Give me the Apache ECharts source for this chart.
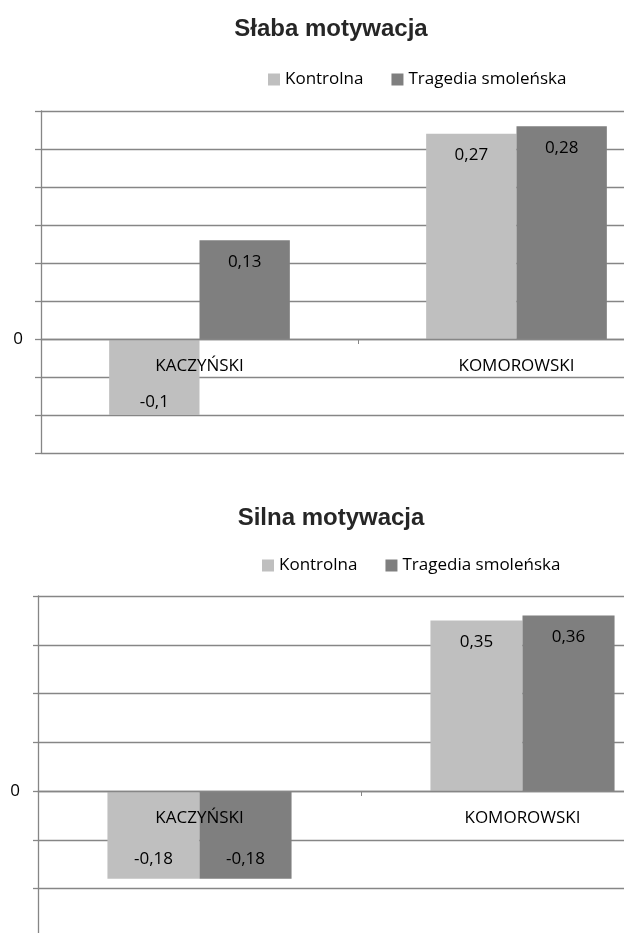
<!DOCTYPE html>
<html>
<head>
<meta charset="utf-8">
<script src="https://cdn.jsdelivr.net/npm/echarts@6/dist/echarts.min.js"></script>
<style>
html,body{margin:0;padding:0;background:#fff;}
#c{width:624px;height:933px;}
</style>
</head>
<body>
<div id="c"></div>
<script>
// ---- data ----
const categories = ['KACZYŃSKI', 'KOMOROWSKI'];
const seriesNames = ['Kontrolna', 'Tragedia smoleńska'];
const chartTitles = ['Słaba motywacja', 'Silna motywacja'];
const slabaKontrolna = [-0.1, 0.27];
const slabaTragedia = [0.13, 0.28];
const silnaKontrolna = [-0.18, 0.35];
const silnaTragedia = [-0.18, 0.36];
const slabaAxis = { min: -0.15, max: 0.3, interval: 0.05 };
const silnaAxis = { min: -0.3, max: 0.4, interval: 0.1 };

// ---- style ----
const colors = ['#BFBFBF', '#7F7F7F'];
const gridColor = '#868686';
const FONT = 'Open Sans';
const textSize = 17;

const panels = [
  { title: chartTitles[0], values: [slabaKontrolna, slabaTragedia], axis: slabaAxis,
    titleTop: 17, legendLeft: 268, legendTop: 71,
    grid: { left: 41, top: 111, width: 634, height: 342 }, tickLen: 6, negDist: 4 },
  { title: chartTitles[1], values: [silnaKontrolna, silnaTragedia], axis: silnaAxis,
    titleTop: 506, legendLeft: 262, legendTop: 557,
    grid: { left: 38, top: 596, width: 646, height: 341.25 }, tickLen: 5, negDist: 11 }
];

const fmt = v => String(v).replace('.', ',');

const option = {
  animation: false,
  backgroundColor: '#fff',
  title: [], legend: [], grid: [], xAxis: [], yAxis: [], series: []
};

panels.forEach((p, i) => {
  // distance (px) from the bottom of the grid up to the zero line
  const zeroFromBottom = p.grid.height * (-p.axis.min) / (p.axis.max - p.axis.min);
  option.title.push({
    text: p.title, left: 331, top: p.titleTop, textAlign: 'center', padding: 0,
    textStyle: { fontFamily: 'Liberation Sans', fontWeight: 'bold', fontSize: 24, color: '#262626' }
  });
  option.legend.push({
    data: seriesNames, left: p.legendLeft, top: p.legendTop, padding: 0,
    icon: 'rect', itemWidth: 12, itemHeight: 12, itemGap: 28,
    textStyle: { fontFamily: FONT, fontSize: textSize, color: '#000' }
  });
  option.grid.push(Object.assign({ containLabel: false, outerBoundsMode: 'none' }, p.grid));
  option.xAxis.push({
    type: 'category', gridIndex: i, data: categories, z: 5,
    axisLine: { onZero: true, lineStyle: { color: gridColor, width: 1.3 } },
    axisTick: { show: true, length: 5, lineStyle: { color: gridColor } },
    axisLabel: { fontFamily: FONT, fontSize: textSize, color: '#000', margin: 19 - zeroFromBottom },
    splitLine: { show: false }
  });
  option.yAxis.push({
    type: 'value', gridIndex: i, min: p.axis.min, max: p.axis.max, interval: p.axis.interval,
    axisLine: { show: true, lineStyle: { color: gridColor, width: 1.3 } },
    axisTick: { show: true, length: p.tickLen, lineStyle: { color: gridColor, width: 1.3 } },
    axisLabel: {
      fontFamily: FONT, fontSize: textSize, color: '#000', margin: 18,
      formatter: v => (Math.abs(v) < 1e-9 ? '0' : '')
    },
    splitLine: { show: true, lineStyle: { color: gridColor, width: 1.3 } }
  });
  p.values.forEach((vals, s) => {
    option.series.push({
      type: 'bar', name: seriesNames[s], xAxisIndex: i, yAxisIndex: i,
      barGap: '0%', barCategoryGap: '43%',
      itemStyle: { color: colors[s] },
      data: vals.map(v => ({
        value: v,
        label: {
          show: true,
          position: v < 0 ? 'insideBottom' : 'insideTop',
          distance: v < 0 ? p.negDist : 13,
          formatter: fmt(v),
          fontFamily: FONT, fontSize: textSize, color: '#000'
        }
      }))
    });
  });
});

const chart = echarts.init(document.getElementById('c'), null, { renderer: 'canvas' });
chart.setOption(option);
</script>
</body>
</html>
